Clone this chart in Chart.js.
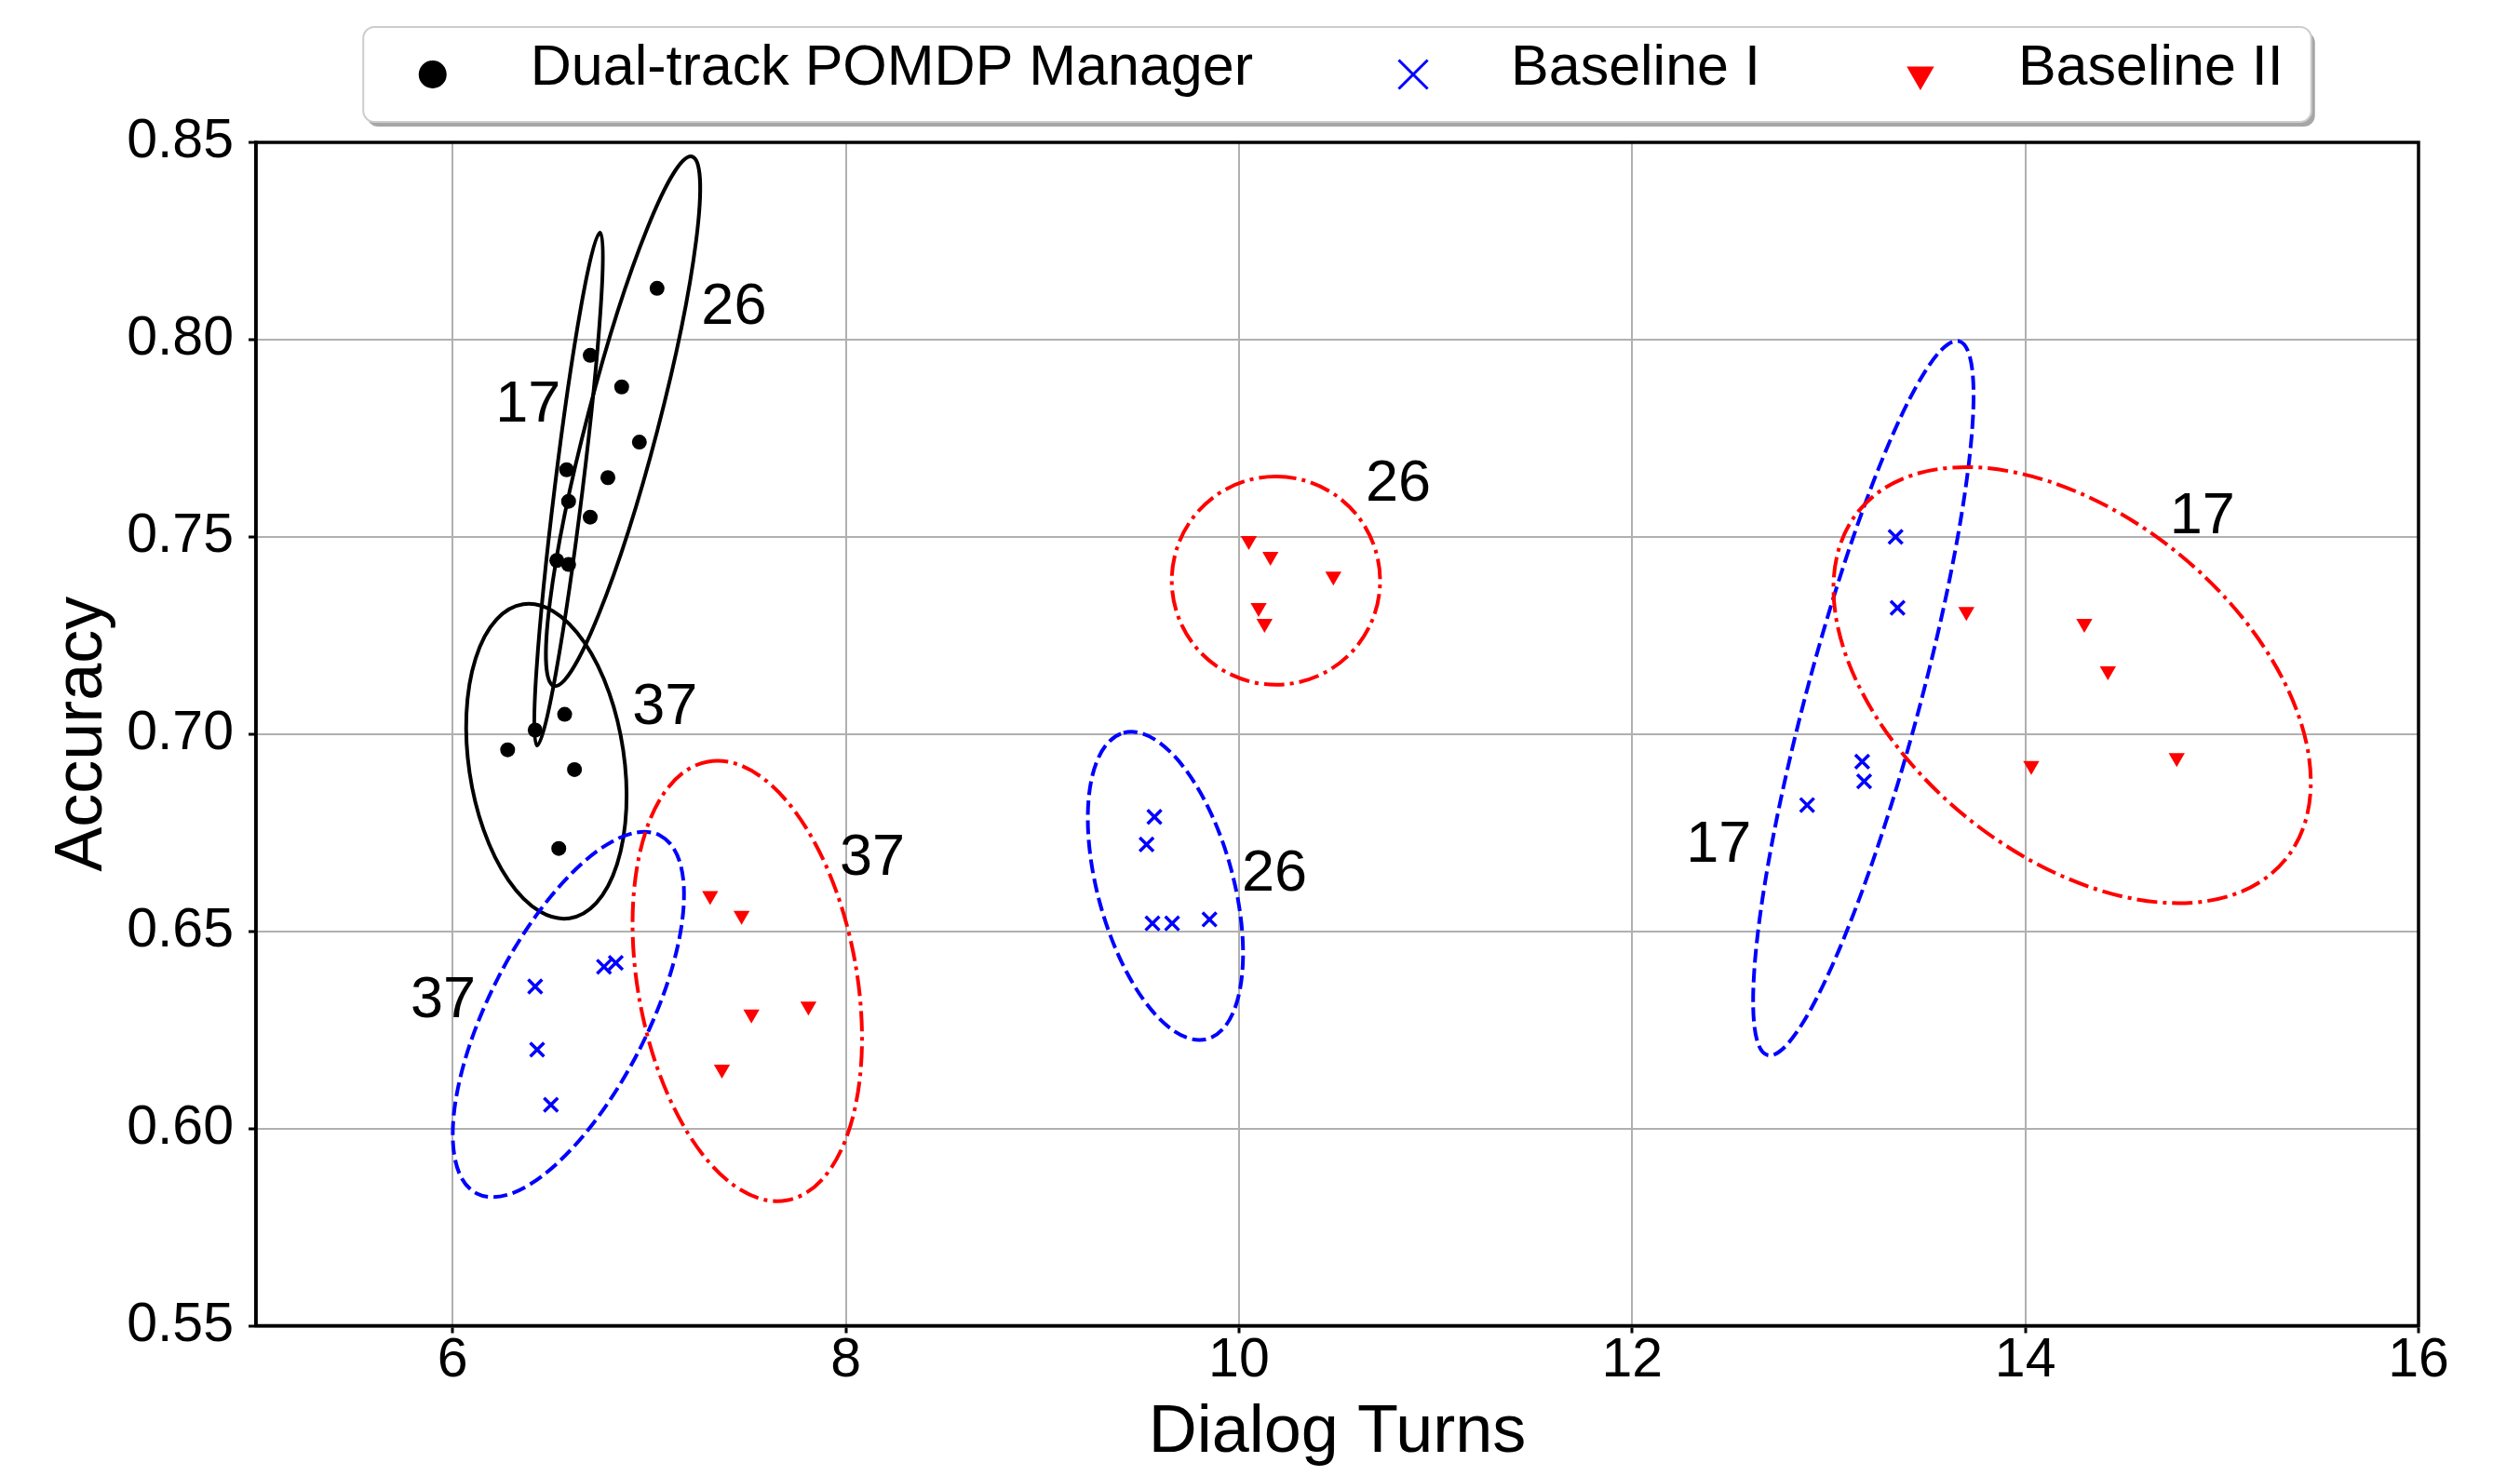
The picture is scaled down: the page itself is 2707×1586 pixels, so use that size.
<!DOCTYPE html>
<html>
<head>
<meta charset="utf-8">
<title>Accuracy vs Dialog Turns</title>
<script src="https://cdn.jsdelivr.net/npm/chart.js@4.4.1/dist/chart.umd.min.js"></script>
<style>
  html, body { margin: 0; padding: 0; background: #fff; }
  #wrap { width: 2707px; height: 1586px; position: relative; }
</style>
</head>
<body>
<div id="wrap"><canvas id="chart"></canvas></div>
<script>
// series names (legend order)
var seriesNames = ['Dual-track POMDP Manager', 'Baseline I', 'Baseline II'];

// Dual-track POMDP Manager
var dualX = [7.04, 6.70, 6.86, 6.95, 6.58, 6.79, 6.59, 6.70, 6.53, 6.59, 6.57, 6.42, 6.28, 6.62, 6.54];
var dualY = [0.813, 0.796, 0.788, 0.774, 0.767, 0.765, 0.759, 0.755, 0.744, 0.743, 0.705, 0.701, 0.696, 0.691, 0.671];

// Baseline I
var base1X = [6.42, 6.43, 6.50, 6.77, 6.83, 9.57, 9.53, 9.56, 9.66, 9.85, 13.34, 13.35, 13.17, 13.18, 12.89];
var base1Y = [0.636, 0.620, 0.606, 0.641, 0.642, 0.679, 0.672, 0.652, 0.652, 0.653, 0.750, 0.732, 0.693, 0.688, 0.682];

// Baseline II
var base2X = [7.31, 7.47, 7.52, 7.81, 7.37, 10.05, 10.16, 10.48, 10.10, 10.13, 13.70, 14.30, 14.42, 14.03, 14.77];
var base2Y = [0.659, 0.654, 0.629, 0.631, 0.615, 0.749, 0.745, 0.740, 0.732, 0.728, 0.731, 0.728, 0.716, 0.692, 0.694];

// tick labels
var xTicks = [6, 8, 10, 12, 14, 16];
var yTicks = [0.55, 0.60, 0.65, 0.70, 0.75, 0.80, 0.85];

// confidence ellipses: [series, centerX, centerY, majorTipX, majorTipY, minor/major]
var ellipseFits = [
  [0, 6.590, 0.7621, 6.750, 0.8271, 0.054],
  [0, 6.867, 0.7793, 7.218, 0.8464, 0.13],
  [0, 6.477, 0.6931, 6.359, 0.7329, 0.489],
  [1, 6.589, 0.6289, 7.055, 0.6743, 0.394],
  [1, 9.626, 0.6615, 9.413, 0.7003, 0.427],
  [1, 13.176, 0.7091, 13.663, 0.7996, 0.153],
  [2, 7.499, 0.6374, 7.298, 0.6930, 0.491],
  [2, 10.188, 0.7389, 10.188, 0.7653, 1.0],
  [2, 14.238, 0.7124, 13.153, 0.7566, 0.614]
];

// group labels next to the ellipses: [text, x, y]
var fitLabels = [
  ['17', 6.384, 0.7832],
  ['26', 7.431, 0.8081],
  ['37', 7.080, 0.7067],
  ['37', 5.952, 0.6322],
  ['37', 8.135, 0.6684],
  ['26', 10.18, 0.6643],
  ['26', 10.81, 0.7633],
  ['17', 12.44, 0.6717],
  ['17', 14.90, 0.7551]
];

var FONT = '"Liberation Sans", Arial, sans-serif';
var lineDashes = [[], [15, 6], [22, 6, 4, 6]];

function toPoints(xs, ys) {
  return xs.map(function (x, i) { return { x: x, y: ys[i] }; });
}

// ellipses drawn under the markers
var ellipsePlugin = {
  id: 'ellipses',
  beforeDatasetsDraw: function (chart) {
    var ctx = chart.ctx, xs = chart.scales.x, ys = chart.scales.y, area = chart.chartArea;
    ctx.save();
    ctx.beginPath();
    ctx.rect(area.left, area.top, area.right - area.left, area.bottom - area.top);
    ctx.clip();
    ellipseFits.forEach(function (e) {
      var ds = chart.data.datasets[e[0]];
      var cx = xs.getPixelForValue(e[1]), cy = ys.getPixelForValue(e[2]);
      var tx = xs.getPixelForValue(e[3]), ty = ys.getPixelForValue(e[4]);
      var a = Math.hypot(tx - cx, ty - cy);
      var rot = Math.atan2(ty - cy, tx - cx);
      ctx.beginPath();
      ctx.ellipse(cx, cy, a, a * e[5], rot, 0, 2 * Math.PI);
      ctx.strokeStyle = ds.lineColor;
      ctx.lineWidth = 4;
      ctx.setLineDash(lineDashes[e[0]]);
      ctx.stroke();
    });
    ctx.restore();
  },
  afterDatasetsDraw: function (chart) {
    var ctx = chart.ctx, xs = chart.scales.x, ys = chart.scales.y;
    ctx.save();
    ctx.fillStyle = '#000';
    ctx.font = '63px ' + FONT;
    ctx.textAlign = 'center';
    ctx.textBaseline = 'middle';
    fitLabels.forEach(function (l) {
      ctx.fillText(l[0], xs.getPixelForValue(l[1]), ys.getPixelForValue(l[2]));
    });
    ctx.restore();
  }
};

function drawMarker(ctx, style, x, y, r, color) {
  ctx.save();
  ctx.translate(x, y);
  if (style === 'circle') {
    ctx.beginPath();
    ctx.arc(0, 0, r, 0, 2 * Math.PI);
    ctx.fillStyle = color;
    ctx.fill();
  } else if (style === 'crossRot') {
    var d = r * Math.SQRT1_2;
    ctx.beginPath();
    ctx.moveTo(-d, -d); ctx.lineTo(d, d);
    ctx.moveTo(-d, d); ctx.lineTo(d, -d);
    ctx.strokeStyle = color;
    ctx.lineWidth = 3;
    ctx.stroke();
  } else {
    // downward triangle
    ctx.beginPath();
    ctx.moveTo(0, r);
    ctx.lineTo(-r * Math.sin(Math.PI / 3), -r / 2);
    ctx.lineTo(r * Math.sin(Math.PI / 3), -r / 2);
    ctx.closePath();
    ctx.fillStyle = color;
    ctx.fill();
  }
  ctx.restore();
}

// frame on all four sides + legend box at the top
var framePlugin = {
  id: 'frameLegend',
  afterDraw: function (chart) {
    var ctx = chart.ctx, area = chart.chartArea;
    ctx.save();
    ctx.strokeStyle = '#000';
    ctx.lineWidth = 3.5;
    ctx.strokeRect(area.left, area.top, area.right - area.left, area.bottom - area.top);

    // legend
    ctx.font = '61px ' + FONT;
    var ds = chart.data.datasets;
    var toText = 105, itemGap = 172, padL = 74.5, padR = 30;
    var widths = ds.map(function (d) { return ctx.measureText(d.label).width; });
    var content = 0;
    widths.forEach(function (w, i) { content += toText + w + (i < widths.length - 1 ? itemGap : 0); });
    var boxW = padL + content + padR;
    var boxL = (area.left + area.right) / 2 - boxW / 2;
    var boxT = 29, boxH = 102;

    ctx.fillStyle = 'rgba(0,0,0,0.35)';
    ctx.beginPath();
    ctx.roundRect(boxL + 4, boxT + 5, boxW, boxH, 12);
    ctx.fill();
    ctx.fillStyle = '#fff';
    ctx.strokeStyle = '#cccccc';
    ctx.lineWidth = 2;
    ctx.beginPath();
    ctx.roundRect(boxL, boxT, boxW, boxH, 12);
    ctx.fill();
    ctx.stroke();

    var x = boxL + padL;
    ctx.textAlign = 'left';
    ctx.textBaseline = 'middle';
    ds.forEach(function (d, i) {
      drawMarker(ctx, d.pointStyle, x, 80, d.legendRadius, d.lineColor);
      ctx.fillStyle = '#000';
      ctx.fillText(d.label, x + toText, 74);
      x += toText + widths[i] + itemGap;
    });
    ctx.restore();
  }
};

var gridOpts = {
  color: '#b0b0b0',
  lineWidth: 2,
  tickColor: '#000',
  tickLength: 8,
  tickWidth: 3
};

var ctx = document.getElementById('chart').getContext('2d');
var chart = new Chart(ctx, {
  type: 'scatter',
  data: {
    datasets: [{
      label: seriesNames[0],
      data: toPoints(dualX, dualY),
      pointStyle: 'circle',
      pointRadius: 8,
      backgroundColor: '#000',
      borderWidth: 0,
      lineColor: '#000',
      legendRadius: 15
    }, {
      label: seriesNames[1],
      data: toPoints(base1X, base1Y),
      pointStyle: 'crossRot',
      pointRadius: 10.5,
      borderColor: '#0000ff',
      backgroundColor: '#0000ff',
      borderWidth: 3.5,
      lineColor: '#0000ff',
      legendRadius: 22
    }, {
      label: seriesNames[2],
      data: toPoints(base2X, base2Y),
      pointStyle: 'triangle',
      pointRotation: 180,
      pointRadius: 10,
      backgroundColor: '#ff0000',
      borderWidth: 0,
      lineColor: '#ff0000',
      legendRadius: 17
    }]
  },
  options: {
    responsive: true,
    maintainAspectRatio: false,
    devicePixelRatio: 1,
    animation: false,
    layout: { padding: { top: 153, right: 109, bottom: 0, left: 0 } },
    plugins: {
      legend: { display: false },
      tooltip: { enabled: false }
    },
    scales: {
      x: {
        type: 'linear',
        min: 5,
        max: 16,
        afterBuildTicks: function (s) { s.ticks = xTicks.map(function (v) { return { value: v }; }); },
        afterFit: function (s) { s.height = 161.5; },
        ticks: {
          color: '#000',
          font: { family: FONT, size: 59, lineHeight: 1 },
          padding: 1,
          maxRotation: 0,
          autoSkip: false,
          callback: function (v) { return String(v); }
        },
        grid: gridOpts,
        border: { color: '#000', width: 3.5 },
        title: {
          display: true,
          text: 'Dialog Turns',
          color: '#000',
          font: { family: FONT, size: 72 },
          padding: { top: 0, bottom: 3 }
        }
      },
      y: {
        type: 'linear',
        min: 0.55,
        max: 0.85,
        afterBuildTicks: function (s) { s.ticks = yTicks.map(function (v) { return { value: v }; }); },
        afterFit: function (s) { s.width = 275; },
        ticks: {
          color: '#000',
          font: { family: FONT, size: 59 },
          padding: 16,
          autoSkip: false,
          callback: function (v) { return v.toFixed(2); }
        },
        grid: gridOpts,
        border: { color: '#000', width: 3.5 },
        title: {
          display: true,
          text: 'Accuracy',
          color: '#000',
          font: { family: FONT, size: 72 },
          padding: { top: 46, bottom: 0 }
        }
      }
    }
  },
  plugins: [ellipsePlugin, framePlugin]
});
</script>
</body>
</html>
